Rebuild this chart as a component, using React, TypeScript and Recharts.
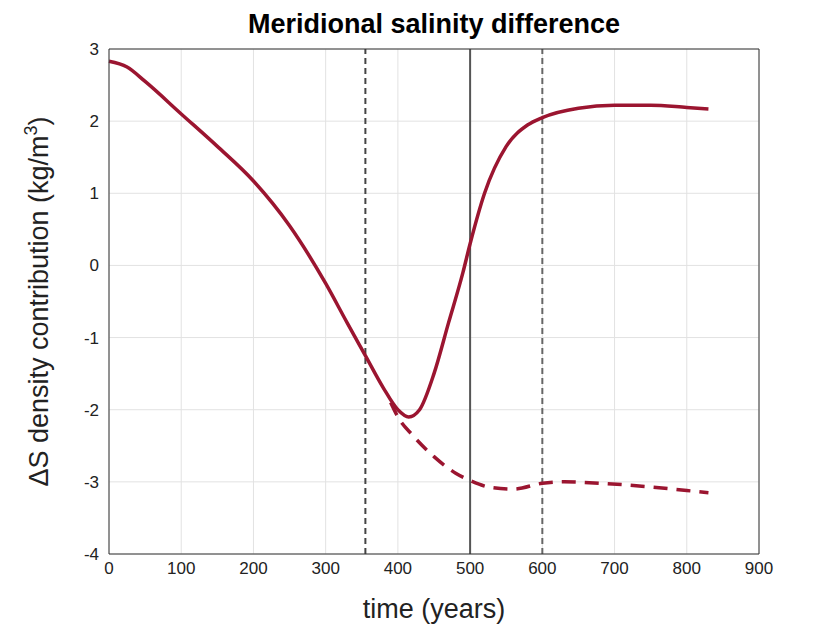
import React from 'react';
import { LineChart, Line, XAxis, YAxis, CartesianGrid, ReferenceLine } from 'recharts';

const solidT = [0, 25, 50, 100, 150, 200, 250, 300, 330, 355, 380, 400, 415, 430, 450, 470, 490, 500, 520, 550, 580, 600, 650, 700, 750, 800, 830];
const solidV = [2.83, 2.75, 2.55, 2.1, 1.65, 1.17, 0.55, -0.25, -0.8, -1.25, -1.7, -2.0, -2.1, -2.0, -1.5, -0.8, -0.1, 0.3, 1.0, 1.65, 1.95, 2.05, 2.18, 2.22, 2.22, 2.19, 2.17];
const dashT = [390, 400, 420, 450, 480, 500, 530, 560, 600, 630, 680, 750, 800, 830];
const dashV = [-1.9, -2.1, -2.35, -2.65, -2.88, -2.98, -3.08, -3.1, -3.02, -3.0, -3.02, -3.07, -3.12, -3.15];
const xTicks = [0, 100, 200, 300, 400, 500, 600, 700, 800, 900];
const yTicks = [-4, -3, -2, -1, 0, 1, 2, 3];

const solid = solidT.map((t, i) => ({ t, v: solidV[i] }));
const dashed = dashT.map((t, i) => ({ t, v: dashV[i] }));
const font = 'Liberation Sans, Arial, sans-serif';
const red = '#9b1530';

export default function App() {
  return (
    <div style={{ position: 'relative', width: 832, height: 622, fontFamily: font }}>
      <div style={{ position: 'absolute', top: 1, left: 0, width: 852, textAlign: 'center', fontWeight: 'bold', fontSize: 27 }}>
        Meridional salinity difference
      </div>
      <LineChart width={832} height={622} margin={{ top: 40, right: 80, bottom: 46, left: 41 }}>
        <CartesianGrid xAxisId="b" yAxisId="l" stroke="#e2e2e2" />
        <XAxis xAxisId="b" dataKey="t" type="number" domain={[0, 900]} ticks={xTicks} height={30}
          stroke="#333" tick={{ fill: '#222', fontSize: 17, fontFamily: font }} tickSize={0} tickMargin={8}
          label={{ value: 'time (years)', position: 'insideBottom', offset: -34, fontSize: 27, fill: '#222', fontFamily: font }} />
        <XAxis xAxisId="t" dataKey="t" type="number" domain={[0, 900]} orientation="top" ticks={xTicks} tick={false} tickSize={0} height={1} stroke="#333" />
        <YAxis yAxisId="l" type="number" domain={[-4, 3]} ticks={yTicks} width={60} stroke="#333"
          tick={{ fill: '#222', fontSize: 17, fontFamily: font }} tickSize={0} tickMargin={10}
          label={(props: any) => {
            const vb = props.viewBox;
            const cx = 40, cy = vb.y + vb.height / 2;
            return (
              <text x={cx} y={cy} transform={`rotate(-90 ${cx} ${cy})`} textAnchor="middle" fontSize={27} fill="#222" fontFamily={font}>
                ΔS density contribution (kg/m<tspan dy={-11} fontSize={18}>3</tspan><tspan dy={11}>)</tspan>
              </text>
            );
          }} />
        <YAxis yAxisId="r" orientation="right" type="number" domain={[-4, 3]} ticks={yTicks} tick={false} tickSize={0} width={1} stroke="#333" />
        <ReferenceLine xAxisId="b" yAxisId="l" x={355} stroke="#444" strokeWidth={2} strokeDasharray="6 4" />
        <ReferenceLine xAxisId="b" yAxisId="l" x={500} stroke="#555" strokeWidth={2} />
        <ReferenceLine xAxisId="b" yAxisId="l" x={600} stroke="#666" strokeWidth={2} strokeDasharray="6 4" />
        <Line xAxisId="b" yAxisId="l" data={dashed} dataKey="v" type="monotone" stroke={red} strokeWidth={3.5} strokeDasharray="14 9" dot={false} isAnimationActive={false} />
        <Line xAxisId="b" yAxisId="l" data={solid} dataKey="v" type="monotone" stroke={red} strokeWidth={3.5} dot={false} isAnimationActive={false} />
      </LineChart>
    </div>
  );
}
